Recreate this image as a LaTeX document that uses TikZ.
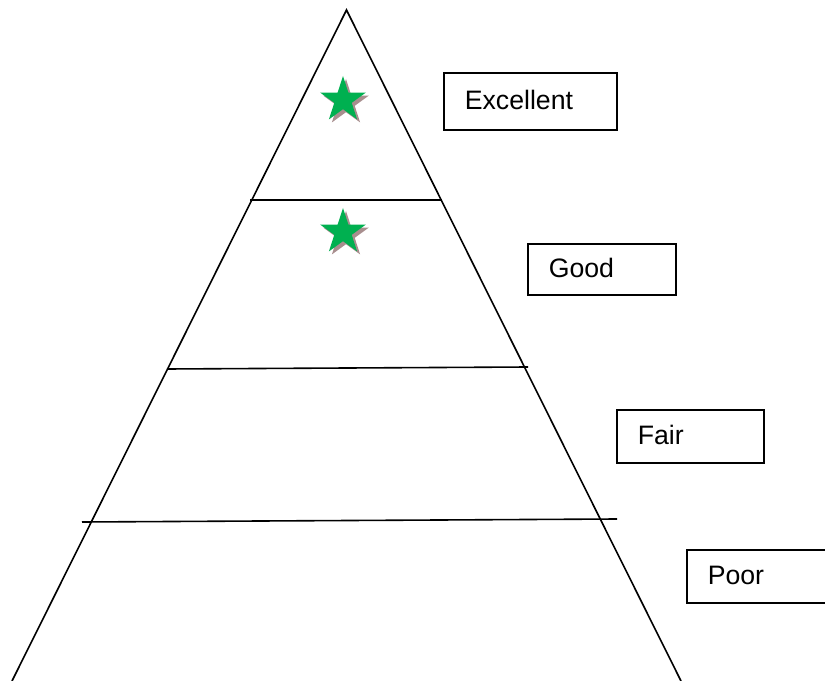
\documentclass[tikz,border=0pt]{standalone}
\usepackage{fontspec}
\setmainfont{Liberation Sans}
\usetikzlibrary{shapes.geometric}
\definecolor{stargreen}{HTML}{00B050}
\definecolor{starshadow}{HTML}{A88E8E}
\tikzset{
  ln/.style={line width=1.2pt, black},
  levelbox/.style={draw=black, line width=1.2pt, rectangle, anchor=north west,
    font=\fontsize{20pt}{22pt}\selectfont, inner xsep=15.75pt, inner ysep=0pt,
    text height=1.25em, text depth=0pt, align=left},
  starshape/.style={star, star points=5, star point ratio=2.618, inner sep=0pt,
    minimum size=36pt},
  greenstar/.style={starshape, fill=stargreen},
  shadowstar/.style={starshape, fill=starshadow}
}
\begin{document}
\begin{tikzpicture}[x=0.75pt, y=-0.75pt]
\clip (0,0) rectangle (825,681);
% triangle
\coordinate (apex) at (346.5,10);
\coordinate (bl) at (12,681);
\coordinate (br) at (681,681);
\draw[ln] (bl) -- (apex) -- (br);
% level dividers
\coordinate (d1l) at (250,200);
\coordinate (d1r) at (442,200);
\coordinate (d2l) at (167,369);
\coordinate (d2r) at (528,367);
\coordinate (d3l) at (82,522);
\coordinate (d3r) at (617,519);
\draw[ln] (d1l) -- (d1r);
\draw[ln] (d2l) -- (d2r);
\draw[ln] (d3l) -- (d3r);
% stars
\node[shadowstar] (s1sh) at (346,103) {};
\node[greenstar] (s1) at (343,100) {};
\node[shadowstar] (s2sh) at (346,235) {};
\node[greenstar] (s2) at (343,232) {};
% level boxes
\node[levelbox, minimum width=129.75pt, minimum height=42.75pt, text width=98.25pt] (exc) at (443,72) {Excellent};
\node[levelbox, minimum width=111pt, minimum height=38.25pt, text width=79.5pt] (good) at (527,243) {Good};
\node[levelbox, minimum width=110.25pt, minimum height=39.75pt, text width=78.75pt] (fair) at (616,409) {Fair};
\node[levelbox, minimum width=112.5pt, minimum height=39.75pt, text width=81pt] (poor) at (686,549) {Poor};
\end{tikzpicture}
\end{document}
